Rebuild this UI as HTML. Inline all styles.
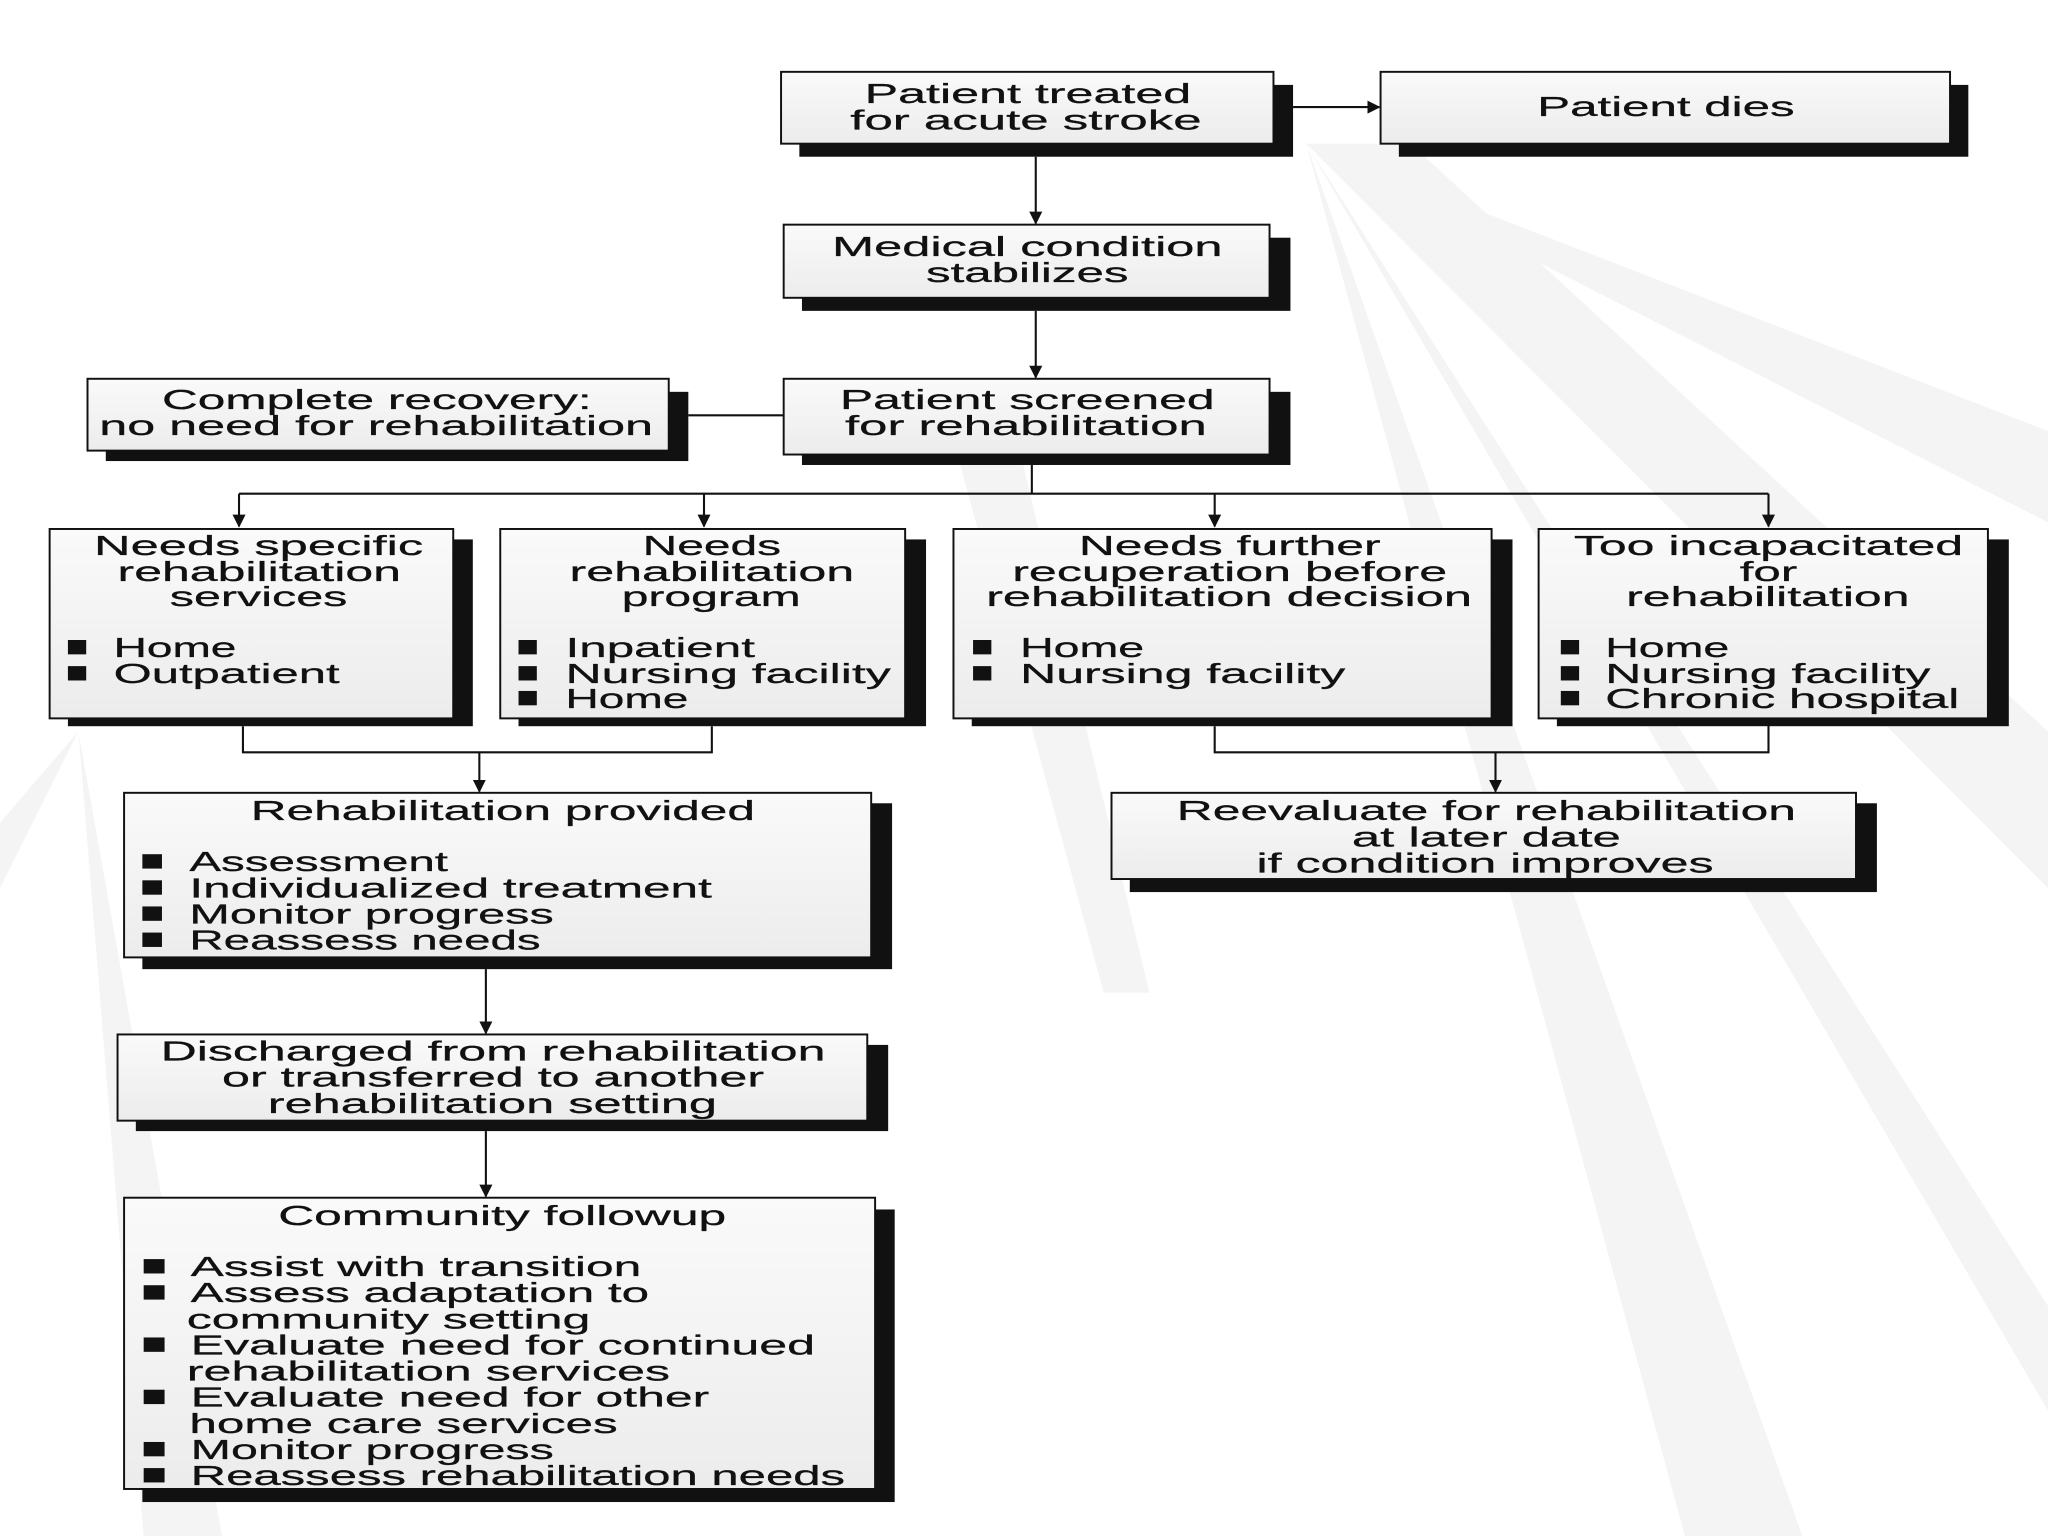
<!DOCTYPE html>
<html><head><meta charset="utf-8"><style>
html,body{margin:0;padding:0;background:#fff;}
svg{display:block;}
text{font-family:"Liberation Sans",sans-serif;font-size:21px;fill:#111;stroke:#111;stroke-width:0.2;}
</style></head><body>
<svg width="2048" height="1536" viewBox="0 0 1568 1176" xmlns="http://www.w3.org/2000/svg">
<defs>
<linearGradient id="bg" x1="0" y1="0" x2="0" y2="1"><stop offset="0" stop-color="#fafafa"/><stop offset="1" stop-color="#ececec"/></linearGradient>
<marker id="ar" markerWidth="10" markerHeight="10" refX="9" refY="5" orient="auto" markerUnits="userSpaceOnUse"><path d="M0,0 L10,5 L0,10 z" fill="#111"/></marker>
</defs>
<rect width="1568" height="1176" fill="#fff"/>
<!-- faint rays -->
<g fill="#f4f4f4">
<polygon points="1000,110 1080,110 1568,560 1568,680"/>
<polygon points="1000,110 1568,330 1568,400"/>
<polygon points="1000,110 1380,1176 1290,1176"/>
<polygon points="1000,110 1568,1000 1568,1080"/>
<polygon points="60,560 170,1176 110,1176"/>
<polygon points="60,560 0,680 0,630"/>
<polygon points="720,300 770,300 880,760 845,760"/>
</g>
<g stroke="#111" stroke-width="1.6" fill="none">
<line x1="990" y1="82" x2="1056" y2="82" marker-end="url(#ar)"/>
<line x1="793" y1="120" x2="793" y2="171" marker-end="url(#ar)"/>
<line x1="793" y1="238" x2="793" y2="289" marker-end="url(#ar)"/>
<line x1="527" y1="318" x2="600" y2="318"/>
<line x1="790" y1="356" x2="790" y2="378"/>
<line x1="183" y1="378" x2="1354" y2="378"/>
<line x1="183" y1="378" x2="183" y2="403" marker-end="url(#ar)"/>
<line x1="539" y1="378" x2="539" y2="403" marker-end="url(#ar)"/>
<line x1="930" y1="378" x2="930" y2="403" marker-end="url(#ar)"/>
<line x1="1354" y1="378" x2="1354" y2="403" marker-end="url(#ar)"/>
<polyline points="186,556 186,576 545,576 545,556"/>
<line x1="367" y1="576" x2="367" y2="606" marker-end="url(#ar)"/>
<polyline points="930,556 930,576 1354,576 1354,550"/>
<line x1="1145" y1="576" x2="1145" y2="606" marker-end="url(#ar)"/>
<line x1="372" y1="742" x2="372" y2="791" marker-end="url(#ar)"/>
<line x1="372" y1="866" x2="372" y2="916" marker-end="url(#ar)"/>
</g>
<g>
<rect x="612" y="65" width="378" height="55" fill="#111"/><rect x="598" y="55" width="377" height="55" fill="url(#bg)" stroke="#111" stroke-width="1.5"/>
<rect x="1071" y="65" width="436" height="55" fill="#111"/><rect x="1057" y="55" width="436" height="55" fill="url(#bg)" stroke="#111" stroke-width="1.5"/>
<rect x="614" y="182" width="374" height="56" fill="#111"/><rect x="600" y="172" width="372" height="56" fill="url(#bg)" stroke="#111" stroke-width="1.5"/>
<rect x="614" y="300" width="374" height="56" fill="#111"/><rect x="600" y="290" width="372" height="58" fill="url(#bg)" stroke="#111" stroke-width="1.5"/>
<rect x="81" y="300" width="446" height="53" fill="#111"/><rect x="67" y="290" width="445" height="55" fill="url(#bg)" stroke="#111" stroke-width="1.5"/>
<rect x="52" y="413" width="310" height="143" fill="#111"/><rect x="38" y="405" width="309" height="145" fill="url(#bg)" stroke="#111" stroke-width="1.5"/>
<rect x="397" y="413" width="312" height="143" fill="#111"/><rect x="383" y="405" width="310" height="145" fill="url(#bg)" stroke="#111" stroke-width="1.5"/>
<rect x="744" y="413" width="414" height="143" fill="#111"/><rect x="730" y="405" width="412" height="145" fill="url(#bg)" stroke="#111" stroke-width="1.5"/>
<rect x="1192" y="413" width="346" height="143" fill="#111"/><rect x="1178" y="405" width="344" height="145" fill="url(#bg)" stroke="#111" stroke-width="1.5"/>
<rect x="109" y="615" width="574" height="127" fill="#111"/><rect x="95" y="607" width="572" height="126" fill="url(#bg)" stroke="#111" stroke-width="1.5"/>
<rect x="865" y="615" width="572" height="68" fill="#111"/><rect x="851" y="607" width="570" height="66" fill="url(#bg)" stroke="#111" stroke-width="1.5"/>
<rect x="104" y="800" width="576" height="66" fill="#111"/><rect x="90" y="792" width="574" height="66" fill="url(#bg)" stroke="#111" stroke-width="1.5"/>
<rect x="109" y="926" width="576" height="224" fill="#111"/><rect x="95" y="917" width="575" height="223" fill="url(#bg)" stroke="#111" stroke-width="1.5"/>
</g>
<g fill="#111">
<rect x="52" y="490" width="14" height="11"/><rect x="52" y="510" width="14" height="11"/>
<rect x="397" y="490" width="14" height="11"/><rect x="397" y="510" width="14" height="11"/><rect x="397" y="529" width="14" height="11"/>
<rect x="745" y="490" width="14" height="11"/><rect x="745" y="510" width="14" height="11"/>
<rect x="1195" y="490" width="14" height="11"/><rect x="1195" y="510" width="14" height="11"/><rect x="1195" y="529" width="14" height="11"/>
<rect x="109" y="654" width="15" height="11"/><rect x="109" y="674" width="15" height="11"/><rect x="109" y="694" width="15" height="11"/><rect x="109" y="714" width="15" height="11"/>
<rect x="110" y="964" width="16" height="11"/><rect x="110" y="984" width="16" height="11"/><rect x="110" y="1024" width="16" height="11"/><rect x="110" y="1064" width="16" height="11"/><rect x="110" y="1104" width="16" height="11"/><rect x="110" y="1124" width="16" height="11"/>
</g>
<g>
<text x="662" y="79" textLength="250" lengthAdjust="spacingAndGlyphs">Patient treated</text>
<text x="651" y="99" textLength="269" lengthAdjust="spacingAndGlyphs">for acute stroke</text>
<text x="1177" y="89" textLength="197" lengthAdjust="spacingAndGlyphs">Patient dies</text>
<text x="637" y="196" textLength="299" lengthAdjust="spacingAndGlyphs">Medical condition</text>
<text x="709" y="216" textLength="155" lengthAdjust="spacingAndGlyphs">stabilizes</text>
<text x="124" y="313" textLength="329" lengthAdjust="spacingAndGlyphs">Complete recovery:</text>
<text x="76" y="333" textLength="424" lengthAdjust="spacingAndGlyphs">no need for rehabilitation</text>
<text x="643" y="313" textLength="287" lengthAdjust="spacingAndGlyphs">Patient screened</text>
<text x="647" y="333" textLength="277" lengthAdjust="spacingAndGlyphs">for rehabilitation</text>

<text x="72" y="425" textLength="252" lengthAdjust="spacingAndGlyphs">Needs specific</text>
<text x="90" y="445" textLength="217" lengthAdjust="spacingAndGlyphs">rehabilitation</text>
<text x="130" y="464" textLength="136" lengthAdjust="spacingAndGlyphs">services</text>
<text x="87" y="503" textLength="94" lengthAdjust="spacingAndGlyphs">Home</text>
<text x="87" y="523" textLength="173" lengthAdjust="spacingAndGlyphs">Outpatient</text>

<text x="492" y="425" textLength="106" lengthAdjust="spacingAndGlyphs">Needs</text>
<text x="436" y="445" textLength="218" lengthAdjust="spacingAndGlyphs">rehabilitation</text>
<text x="476" y="464" textLength="137" lengthAdjust="spacingAndGlyphs">program</text>
<text x="433" y="503" textLength="145" lengthAdjust="spacingAndGlyphs">Inpatient</text>
<text x="433" y="523" textLength="249" lengthAdjust="spacingAndGlyphs">Nursing facility</text>
<text x="433" y="542" textLength="94" lengthAdjust="spacingAndGlyphs">Home</text>

<text x="826" y="425" textLength="231" lengthAdjust="spacingAndGlyphs">Needs further</text>
<text x="775" y="445" textLength="333" lengthAdjust="spacingAndGlyphs">recuperation before</text>
<text x="755" y="464" textLength="372" lengthAdjust="spacingAndGlyphs">rehabilitation decision</text>
<text x="781" y="503" textLength="95" lengthAdjust="spacingAndGlyphs">Home</text>
<text x="781" y="523" textLength="249" lengthAdjust="spacingAndGlyphs">Nursing facility</text>

<text x="1205" y="425" textLength="298" lengthAdjust="spacingAndGlyphs">Too incapacitated</text>
<text x="1332" y="445" textLength="44" lengthAdjust="spacingAndGlyphs">for</text>
<text x="1245" y="464" textLength="217" lengthAdjust="spacingAndGlyphs">rehabilitation</text>
<text x="1229" y="503" textLength="95" lengthAdjust="spacingAndGlyphs">Home</text>
<text x="1229" y="523" textLength="249" lengthAdjust="spacingAndGlyphs">Nursing facility</text>
<text x="1229" y="542" textLength="271" lengthAdjust="spacingAndGlyphs">Chronic hospital</text>

<text x="192" y="628" textLength="386" lengthAdjust="spacingAndGlyphs">Rehabilitation provided</text>
<text x="145" y="667" textLength="198" lengthAdjust="spacingAndGlyphs">Assessment</text>
<text x="145" y="687" textLength="400" lengthAdjust="spacingAndGlyphs">Individualized treatment</text>
<text x="145" y="707" textLength="279" lengthAdjust="spacingAndGlyphs">Monitor progress</text>
<text x="145" y="727" textLength="269" lengthAdjust="spacingAndGlyphs">Reassess needs</text>

<text x="901" y="628" textLength="474" lengthAdjust="spacingAndGlyphs">Reevaluate for rehabilitation</text>
<text x="1035" y="648" textLength="206" lengthAdjust="spacingAndGlyphs">at later date</text>
<text x="962" y="668" textLength="350" lengthAdjust="spacingAndGlyphs">if condition improves</text>

<text x="123" y="812" textLength="509" lengthAdjust="spacingAndGlyphs">Discharged from rehabilitation</text>
<text x="170" y="832" textLength="415" lengthAdjust="spacingAndGlyphs">or transferred to another</text>
<text x="205" y="852" textLength="344" lengthAdjust="spacingAndGlyphs">rehabilitation setting</text>

<text x="213" y="938" textLength="343" lengthAdjust="spacingAndGlyphs">Community followup</text>
<text x="146" y="977" textLength="345" lengthAdjust="spacingAndGlyphs">Assist with transition</text>
<text x="146" y="997" textLength="351" lengthAdjust="spacingAndGlyphs">Assess adaptation to</text>
<text x="143" y="1017" textLength="309" lengthAdjust="spacingAndGlyphs">community setting</text>
<text x="146" y="1037" textLength="478" lengthAdjust="spacingAndGlyphs">Evaluate need for continued</text>
<text x="143" y="1057" textLength="370" lengthAdjust="spacingAndGlyphs">rehabilitation services</text>
<text x="146" y="1077" textLength="397" lengthAdjust="spacingAndGlyphs">Evaluate need for other</text>
<text x="145" y="1097" textLength="328" lengthAdjust="spacingAndGlyphs">home care services</text>
<text x="146" y="1117" textLength="278" lengthAdjust="spacingAndGlyphs">Monitor progress</text>
<text x="146" y="1137" textLength="501" lengthAdjust="spacingAndGlyphs">Reassess rehabilitation needs</text>
</g>
</svg>
</body></html>
